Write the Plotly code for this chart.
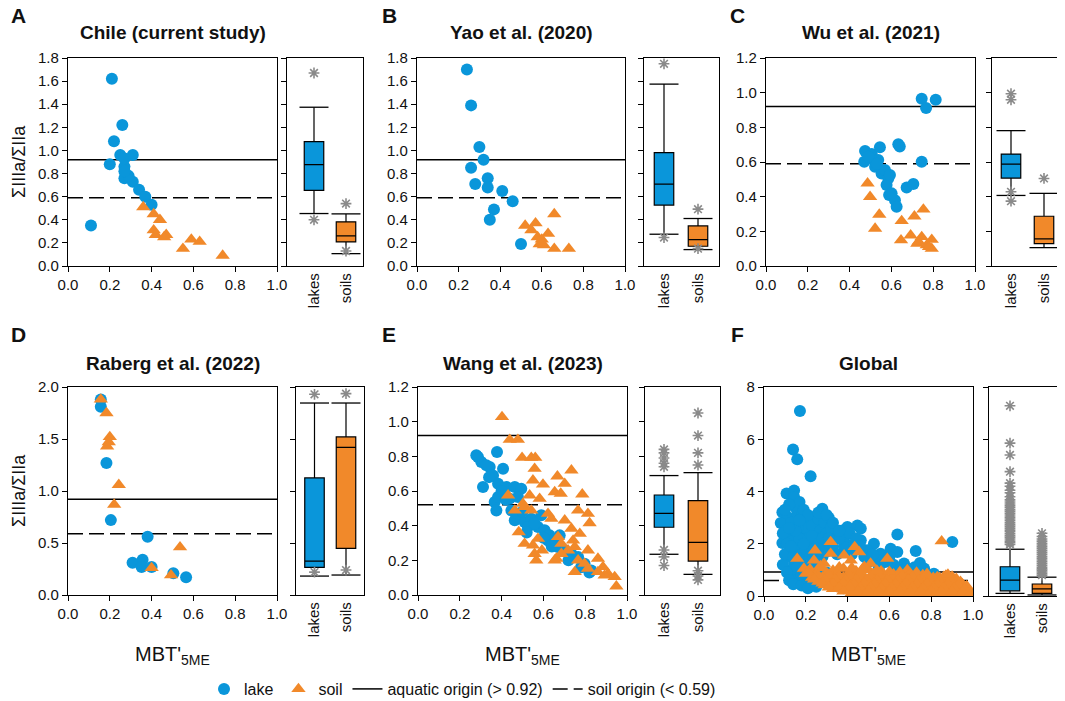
import plotly.graph_objects as go

# ---------------- data ----------------
# Panel A - Chile (current study)
a_lake_x = [0.11, 0.21, 0.22, 0.26, 0.20, 0.25, 0.31, 0.27, 0.27, 0.27, 0.31, 0.34, 0.37, 0.40, 0.29, 0.27]
a_lake_y = [0.35, 1.62, 1.08, 1.22, 0.88, 0.96, 0.96, 0.86, 0.93, 0.76, 0.73, 0.66, 0.60, 0.53, 0.78, 0.82]
a_soil_x = [0.36, 0.41, 0.44, 0.41, 0.42, 0.47, 0.46, 0.55, 0.59, 0.63, 0.74]
a_soil_y = [0.51, 0.45, 0.40, 0.31, 0.27, 0.27, 0.25, 0.15, 0.23, 0.21, 0.09]

# Panel B - Yao et al. (2020)
b_lake_x = [0.24, 0.26, 0.30, 0.32, 0.26, 0.34, 0.28, 0.34, 0.41, 0.46, 0.37, 0.35, 0.50]
b_lake_y = [1.70, 1.39, 1.03, 0.92, 0.85, 0.76, 0.71, 0.68, 0.65, 0.56, 0.49, 0.40, 0.19]
b_soil_x = [0.52, 0.57, 0.55, 0.66, 0.58, 0.63, 0.59, 0.61, 0.66, 0.73, 0.60]
b_soil_y = [0.35, 0.37, 0.31, 0.45, 0.25, 0.28, 0.19, 0.18, 0.15, 0.15, 0.23]

# Panel C - Wu et al. (2021)
c_lake_x = [0.745, 0.766, 0.812, 0.474, 0.506, 0.545, 0.633, 0.745, 0.47, 0.522, 0.553, 0.585, 0.577,
            0.589, 0.617, 0.625, 0.673, 0.705, 0.506, 0.537, 0.569, 0.593, 0.601, 0.49, 0.53, 0.64]
c_lake_y = [0.965, 0.911, 0.959, 0.664, 0.646, 0.685, 0.702, 0.602, 0.602, 0.573, 0.534, 0.505, 0.467,
            0.409, 0.380, 0.342, 0.453, 0.473, 0.621, 0.612, 0.554, 0.525, 0.419, 0.63, 0.59, 0.69]
c_soil_x = [0.486, 0.498, 0.542, 0.522, 0.649, 0.71, 0.753, 0.646, 0.692, 0.724, 0.745, 0.769, 0.793, 0.793, 0.73, 0.78]
c_soil_y = [0.477, 0.399, 0.297, 0.216, 0.260, 0.287, 0.326, 0.149, 0.177, 0.129, 0.168, 0.120, 0.152, 0.10, 0.14, 0.11]

# Panel D - Raberg et al. (2022)
d_lake_x = [0.157, 0.157, 0.184, 0.205, 0.381, 0.309, 0.357, 0.352, 0.40, 0.504, 0.565]
d_lake_y = [1.88, 1.81, 1.27, 0.72, 0.56, 0.31, 0.34, 0.27, 0.27, 0.21, 0.17]
d_soil_x = [0.157, 0.184, 0.20, 0.187, 0.243, 0.221, 0.536, 0.40, 0.493, 0.195]
d_soil_y = [1.88, 1.75, 1.52, 1.43, 1.06, 0.87, 0.46, 0.26, 0.19, 1.47]

# Panel E - Wang et al. (2023)
e_lake_x = [0.287, 0.303, 0.378, 0.343, 0.407, 0.359, 0.311, 0.383, 0.423, 0.463,
            0.494, 0.367, 0.383, 0.439, 0.478, 0.375, 0.447, 0.478, 0.463, 0.51,
            0.542, 0.59, 0.526, 0.574, 0.606, 0.63, 0.654, 0.678, 0.702, 0.734,
            0.766, 0.797, 0.829, 0.279, 0.327, 0.478, 0.558, 0.622, 0.67,
            0.34, 0.40, 0.42, 0.50, 0.52, 0.60, 0.64, 0.72, 0.78, 0.82]
e_lake_y = [0.796, 0.767, 0.825, 0.738, 0.729, 0.690, 0.623, 0.642, 0.623, 0.623,
            0.613, 0.537, 0.565, 0.556, 0.565, 0.488, 0.488, 0.450, 0.431, 0.421,
            0.440, 0.460, 0.392, 0.392, 0.373, 0.344, 0.306, 0.344, 0.258, 0.238,
            0.219, 0.181, 0.142, 0.806, 0.748, 0.469, 0.412, 0.315, 0.277,
            0.68, 0.60, 0.55, 0.48, 0.36, 0.33, 0.28, 0.20, 0.16, 0.13]
e_soil_x = [0.402, 0.439, 0.478, 0.498, 0.542, 0.561, 0.558, 0.734, 0.667, 0.55,
            0.598, 0.702, 0.654, 0.683, 0.786, 0.431, 0.534, 0.582, 0.502, 0.463,
            0.542, 0.51, 0.622, 0.638, 0.766, 0.813, 0.821, 0.702, 0.734, 0.774,
            0.482, 0.574, 0.51, 0.55, 0.593, 0.558, 0.67, 0.686, 0.742, 0.75,
            0.718, 0.662, 0.686, 0.813, 0.766, 0.797, 0.861, 0.566, 0.654, 0.75,
            0.813, 0.885, 0.909, 0.941, 0.949, 0.893, 0.861]
e_soil_y = [1.027, 0.896, 0.896, 0.792, 0.792, 0.792, 0.729, 0.719, 0.685, 0.662,
            0.638, 0.642, 0.594, 0.585, 0.581, 0.575, 0.575, 0.556, 0.527, 0.488,
            0.488, 0.508, 0.469, 0.44, 0.488, 0.469, 0.415, 0.431, 0.383, 0.354,
            0.363, 0.325, 0.296, 0.287, 0.258, 0.238, 0.335, 0.296, 0.315, 0.277,
            0.258, 0.21, 0.238, 0.258, 0.2, 0.181, 0.21, 0.2, 0.2, 0.133,
            0.152, 0.162, 0.123, 0.104, 0.05, 0.113, 0.133]

# Panel F - Global
f_lake_x = [0.172, 0.139, 0.159, 0.223, 0.108, 0.144, 0.144, 0.279, 0.088, 0.112,
            0.080, 0.159, 0.191, 0.239, 0.255, 0.088, 0.120, 0.159, 0.207, 0.255,
            0.375, 0.399, 0.447, 0.463, 0.383, 0.463, 0.526, 0.638, 0.606, 0.638,
            0.726, 0.746, 0.901, 0.128, 0.175, 0.223, 0.287, 0.319, 0.343, 0.494,
            0.558, 0.766, 0.112, 0.144, 0.191, 0.255, 0.383, 0.431, 0.542, 0.670,
            0.813, 0.893, 0.957, 0.239, 0.399, 0.558, 0.718, 0.877, 0.989, 0.159,
            0.207, 0.100, 0.130, 0.150, 0.170, 0.180, 0.200, 0.210, 0.230, 0.260,
            0.270, 0.290, 0.300, 0.320, 0.140, 0.160, 0.180, 0.200, 0.220, 0.240,
            0.260, 0.280, 0.300, 0.330, 0.350, 0.360, 0.410, 0.420, 0.440, 0.460,
            0.480, 0.500, 0.520, 0.550, 0.580, 0.600, 0.620, 0.650, 0.690, 0.720,
            0.750, 0.800, 0.850, 0.900, 0.950, 0.820, 0.920, 0.130, 0.150, 0.170,
            0.190, 0.210, 0.230, 0.250, 0.270, 0.300, 0.340, 0.380, 0.450, 0.500,
            0.600, 0.700, 0.110, 0.090, 0.120, 0.160, 0.190, 0.210, 0.250, 0.280,
            0.310, 0.090, 0.100, 0.110, 0.120, 0.140, 0.160, 0.180, 0.200, 0.220,
            0.240, 0.130, 0.170, 0.190, 0.230, 0.260, 0.280, 0.150, 0.100, 0.120,
            0.170, 0.260, 0.300, 0.310, 0.330, 0.360, 0.140, 0.180, 0.210, 0.250]
f_lake_y = [7.08, 5.61, 5.23, 4.58, 3.92, 4.04, 3.79, 3.34, 3.21, 3.02,
            2.79, 3.15, 2.90, 3.02, 2.77, 2.03, 2.26, 2.39, 2.51, 2.39,
            2.51, 2.64, 2.70, 2.58, 2.13, 2.13, 2.00, 2.35, 1.81, 1.68,
            1.72, 1.26, 2.07, 1.75, 1.88, 2.00, 2.26, 2.00, 2.39, 1.75,
            1.62, 1.05, 1.49, 1.24, 1.36, 1.62, 1.88, 2.00, 1.36, 1.24,
            0.85, 0.47, 0.22, 0.47, 0.34, 0.28, 0.22, 0.15, 0.09, 0.85,
            0.60, 2.50, 2.80, 3.40, 3.60, 3.00, 2.60, 2.20, 2.70, 2.95,
            2.50, 2.80, 2.40, 2.60, 2.10, 1.90, 1.60, 1.80, 1.50, 1.30,
            1.10, 1.50, 1.70, 1.90, 1.60, 2.20, 2.40, 1.60, 2.20, 1.90,
            1.50, 1.30, 1.60, 1.10, 1.30, 1.50, 1.20, 1.00, 0.90, 1.10,
            0.80, 0.60, 0.50, 0.30, 0.10, 0.02, 0.03, 1.00, 0.60, 1.20,
            0.90, 0.70, 1.00, 0.80, 0.60, 0.90, 0.40, 0.30, 0.20, 0.15,
            0.08, 0.05, 2.00, 2.40, 3.50, 2.60, 3.30, 3.10, 2.20, 1.90,
            3.00, 1.20, 1.60, 0.90, 0.60, 1.50, 1.10, 0.80, 1.20, 0.90,
            1.80, 1.90, 2.20, 2.00, 2.30, 2.00, 2.20, 2.50, 3.30, 2.60,
            2.90, 3.20, 3.10, 2.20, 2.80, 2.50, 0.45, 0.40, 0.30, 0.35]
f_soil_x = [0.850, 0.319, 0.244, 0.159, 0.434, 0.383, 0.319, 0.590, 0.455, 0.239,
            0.287, 0.191, 0.415, 0.510, 0.686, 0.829, 0.885, 0.220, 0.270, 0.330,
            0.380, 0.440, 0.500, 0.200, 0.250, 0.300, 0.350, 0.400, 0.460, 0.520,
            0.570, 0.620, 0.700, 0.760, 0.230, 0.280, 0.330, 0.380, 0.430, 0.480,
            0.530, 0.580, 0.630, 0.680, 0.730, 0.780, 0.840, 0.900, 0.260, 0.310,
            0.360, 0.410, 0.460, 0.510, 0.560, 0.610, 0.660, 0.710, 0.760, 0.810,
            0.860, 0.910, 0.950, 0.290, 0.340, 0.390, 0.440, 0.490, 0.540, 0.590,
            0.640, 0.690, 0.740, 0.790, 0.840, 0.890, 0.940, 0.330, 0.380, 0.430,
            0.480, 0.530, 0.580, 0.630, 0.680, 0.730, 0.780, 0.830, 0.880, 0.930,
            0.980, 0.420, 0.470, 0.520, 0.570, 0.620, 0.670, 0.720, 0.770, 0.820,
            0.870, 0.920, 0.970, 0.730, 0.560, 0.480, 0.650, 0.870, 0.900, 0.960,
            0.210, 0.260, 0.310, 0.360, 0.410, 0.460, 0.510, 0.560, 0.610, 0.660,
            0.710, 0.760, 0.810, 0.860, 0.920, 0.240, 0.290, 0.340, 0.390, 0.440,
            0.490, 0.540, 0.590, 0.640, 0.690, 0.740, 0.790, 0.840, 0.890, 0.940,
            0.280, 0.330, 0.380, 0.430, 0.480, 0.530, 0.580, 0.630, 0.680, 0.730,
            0.780, 0.830, 0.880, 0.930, 0.970, 0.310, 0.360, 0.410, 0.460, 0.510,
            0.560, 0.610, 0.660, 0.710, 0.760, 0.810, 0.860, 0.910, 0.960, 0.380,
            0.450, 0.500, 0.550, 0.600, 0.650, 0.700, 0.750, 0.800, 0.850, 0.900,
            0.950, 0.990, 0.270, 0.360, 0.420, 0.470, 0.540, 0.600, 0.780, 0.880]
f_soil_y = [2.10, 2.07, 1.75, 1.43, 1.88, 1.56, 1.62, 1.43, 1.68, 1.36,
            1.24, 1.05, 1.36, 1.24, 1.00, 0.73, 0.66, 1.02, 1.08, 0.98,
            1.05, 0.96, 1.00, 0.86, 0.84, 0.88, 0.85, 0.82, 0.87, 0.84,
            0.86, 0.83, 0.85, 0.80, 0.70, 0.72, 0.68, 0.71, 0.69, 0.73,
            0.70, 0.68, 0.72, 0.69, 0.71, 0.67, 0.70, 0.64, 0.55, 0.58,
            0.54, 0.56, 0.53, 0.57, 0.55, 0.52, 0.56, 0.54, 0.53, 0.55,
            0.52, 0.50, 0.45, 0.42, 0.40, 0.41, 0.39, 0.42, 0.38, 0.40,
            0.41, 0.39, 0.40, 0.42, 0.38, 0.40, 0.36, 0.27, 0.25, 0.24,
            0.26, 0.23, 0.25, 0.27, 0.24, 0.26, 0.23, 0.25, 0.24, 0.22,
            0.15, 0.12, 0.10, 0.11, 0.09, 0.12, 0.10, 0.11, 0.09, 0.12,
            0.10, 0.08, 0.06, 0.90, 0.95, 1.12, 0.92, 0.78, 0.75, 0.30,
            0.92, 0.78, 0.80, 0.76, 0.79, 0.75, 0.77, 0.78, 0.74, 0.76,
            0.73, 0.72, 0.70, 0.74, 0.66, 0.64, 0.62, 0.63, 0.61, 0.64,
            0.62, 0.61, 0.63, 0.60, 0.62, 0.59, 0.61, 0.58, 0.60, 0.55,
            0.48, 0.47, 0.49, 0.46, 0.48, 0.45, 0.47, 0.46, 0.48, 0.45,
            0.47, 0.44, 0.46, 0.43, 0.38, 0.33, 0.32, 0.34, 0.31, 0.33,
            0.30, 0.32, 0.31, 0.33, 0.30, 0.32, 0.31, 0.30, 0.26, 0.18,
            0.17, 0.18, 0.16, 0.17, 0.18, 0.16, 0.17, 0.18, 0.16, 0.17,
            0.14, 0.10, 1.15, 1.10, 1.08, 1.02, 0.98, 0.93, 0.85, 0.82]

# Box statistics: [lower whisker, Q1, median, Q3, upper whisker]
a_lake_box = [0.454, 0.654, 0.877, 1.076, 1.374]
a_soil_box = [0.107, 0.208, 0.260, 0.382, 0.451]
b_lake_box = [0.275, 0.527, 0.709, 0.981, 1.574]
b_soil_box = [0.142, 0.171, 0.229, 0.347, 0.411]
c_lake_box = [0.407, 0.507, 0.588, 0.646, 0.781]
c_soil_box = [0.106, 0.129, 0.156, 0.287, 0.419]
d_lake_box = [0.182, 0.266, 0.326, 1.126, 1.846]
d_soil_box = [0.192, 0.448, 1.420, 1.520, 1.846]
e_lake_box = [0.235, 0.391, 0.471, 0.577, 0.689]
e_soil_box = [0.119, 0.196, 0.304, 0.544, 0.706]
f_lake_box = [0.10, 0.20, 0.61, 1.12, 1.79]
f_soil_box = [0.04, 0.10, 0.27, 0.46, 0.72]

# Box-plot outliers
a_lake_out = [1.67, 0.40]
a_soil_out = [0.54, 0.13]
b_lake_out = [1.75, 0.246]
b_soil_out = [0.492, 0.15]
c_lake_out = [0.994, 0.959, 0.428, 0.374]
c_soil_out = [0.505]
d_lake_out = [1.93, 0.22]
d_soil_out = [1.936, 0.24]
e_lake_out = [0.74, 0.76, 0.79, 0.82, 0.84, 0.26, 0.22, 0.17]
e_soil_out = [1.05, 0.92, 0.82, 0.75, 0.14, 0.11, 0.087]
f_lake_out = [1.97, 2.04, 2.10, 2.18, 2.25, 2.31, 2.38, 2.46, 2.52, 2.60, 2.67, 2.73, 2.80,
              2.88, 2.95, 3.02, 3.10, 3.17, 3.24, 3.30, 3.38, 3.45, 3.52, 3.60, 3.68, 3.80,
              3.95, 4.05, 4.20, 4.32, 4.76, 5.40, 5.85, 7.28]
f_soil_out = [0.80, 0.86, 0.92, 0.98, 1.04, 1.10, 1.17, 1.24, 1.31, 1.38, 1.45, 1.52, 1.60,
              1.67, 1.74, 1.81, 1.88, 1.95, 2.02, 2.10, 2.18, 2.28, 2.40]

titles = ["Chile (current study)", "Yao et al. (2020)", "Wu et al. (2021)",
          "Raberg et al. (2022)", "Wang et al. (2023)", "Global"]
letters = ["A", "B", "C", "D", "E", "F"]
aquatic_thr = [0.92, 0.92, 0.92, 0.92, 0.92, 0.92]
soil_thr = [0.59, 0.59, 0.59, 0.59, 0.52, 0.59]
box_cats = ["lakes", "soils"]
legend_names = ["lake", "soil", "aquatic origin (> 0.92)", "soil origin (< 0.59)"]

lake_x = [a_lake_x, b_lake_x, c_lake_x, d_lake_x, e_lake_x, f_lake_x]
lake_y = [a_lake_y, b_lake_y, c_lake_y, d_lake_y, e_lake_y, f_lake_y]
soil_x = [a_soil_x, b_soil_x, c_soil_x, d_soil_x, e_soil_x, f_soil_x]
soil_y = [a_soil_y, b_soil_y, c_soil_y, d_soil_y, e_soil_y, f_soil_y]
lake_box = [a_lake_box, b_lake_box, c_lake_box, d_lake_box, e_lake_box, f_lake_box]
soil_box = [a_soil_box, b_soil_box, c_soil_box, d_soil_box, e_soil_box, f_soil_box]
lake_out = [a_lake_out, b_lake_out, c_lake_out, d_lake_out, e_lake_out, f_lake_out]
soil_out = [a_soil_out, b_soil_out, c_soil_out, d_soil_out, e_soil_out, f_soil_out]

# ---------------- layout / style ----------------
PAGE_W, PAGE_H = 1065, 701
OFF = 8                      # default page margin around the plot div
W, H = PAGE_W - OFF, PAGE_H - OFF
BLUE = "#0A96DA"
ORANGE = "#F1892A"
GRAY = "#8A8A8A"
INK = "#111111"
FONT = "Liberation Sans, Arial, sans-serif"

y_max = [1.8, 1.8, 1.2, 2.0, 1.2, 8]
y_dtick = [0.2, 0.2, 0.2, 0.5, 0.2, 2]
y_fmt = [".1f", ".1f", ".1f", ".1f", ".1f", "d"]
# scatter plot area (left, right, top, bottom) in page pixels
scat_px = [(68, 277, 58, 266), (417, 625, 58, 266), (766, 975, 58, 266),
           (68, 277, 387, 595), (418, 627, 387, 595), (764, 973, 387, 596)]
# box plot area (left, right, lake centre, soil centre) in page pixels
box_px = [(287, 363, 314, 346), (644, 719, 664, 698), (992, 1063, 1011, 1044),
          (296, 364, 314.5, 346), (645, 720, 664, 698), (989, 1062, 1010, 1042)]
letter_px = [(18, 16), (389, 16), (737, 16), (18, 334), (389, 334), (737, 334)]


def px(x):
    return (x - OFF) / W


def py(y):
    return 1 - (y - OFF) / H


def dom_x(l, r):
    return [px(l), px(r)]


def dom_y(t, b):
    return [py(b), py(t)]


fig = go.Figure()
layout = dict(
    width=W, height=H, margin=dict(l=0, r=0, t=0, b=0, autoexpand=False),
    paper_bgcolor="white", plot_bgcolor="white",
    font=dict(family=FONT, size=15, color=INK),
    showlegend=True,
    legend=dict(orientation="h", x=px(204), xanchor="left", y=py(689), yanchor="middle",
                font=dict(family=FONT, size=16, color=INK),
                bgcolor="rgba(0,0,0,0)", itemwidth=30, tracegroupgap=0),
)
annotations = []

axis_common = dict(showgrid=False, zeroline=False, showline=True, mirror=True, automargin=False,
                   linecolor="black", linewidth=1.3, ticks="outside", ticklen=5,
                   tickwidth=1.2, tickcolor="black", tickfont=dict(size=15, color=INK))

for i in range(6):
    sx, bx = 2 * i + 1, 2 * i + 2
    xs = "x" if sx == 1 else f"x{sx}"
    ys = "y" if sx == 1 else f"y{sx}"
    xb, yb = f"x{bx}", f"y{bx}"
    l, r, t, b = scat_px[i]
    bl, br, lc, sc = box_px[i]
    ppu = sc - lc
    show = (i == 0)

    # threshold lines (drawn behind markers)
    fig.add_trace(go.Scatter(x=[0, 1], y=[aquatic_thr[i]] * 2, mode="lines",
                             line=dict(color="black", width=1.5), name=legend_names[2],
                             legendrank=3, showlegend=show, hoverinfo="skip",
                             xaxis=xs, yaxis=ys))
    fig.add_trace(go.Scatter(x=[0, 1], y=[soil_thr[i]] * 2, mode="lines",
                             line=dict(color="black", width=1.5, dash="15px,6px"),
                             name=legend_names[3], legendrank=4, showlegend=show,
                             hoverinfo="skip", xaxis=xs, yaxis=ys))
    # scatter
    fig.add_trace(go.Scatter(x=lake_x[i], y=lake_y[i], mode="markers", name=legend_names[0],
                             marker=dict(symbol="circle", size=12, color=BLUE, line=dict(width=0)),
                             legendrank=1, showlegend=show, xaxis=xs, yaxis=ys))
    fig.add_trace(go.Scatter(x=soil_x[i], y=soil_y[i], mode="markers", name=legend_names[1],
                             marker=dict(symbol="triangle-up", size=12.5, color=ORANGE, line=dict(width=0)),
                             legendrank=2, showlegend=show, xaxis=xs, yaxis=ys))

    # box plots
    bw = 19.5 / ppu
    cap = 14.5 / ppu
    for pos, stats, col, outs in [(0, lake_box[i], BLUE, lake_out[i]),
                                  (1, soil_box[i], ORANGE, soil_out[i])]:
        fig.add_trace(go.Box(x=[pos], lowerfence=[stats[0]], q1=[stats[1]], median=[stats[2]],
                             q3=[stats[3]], upperfence=[stats[4]], orientation="v",
                             width=bw, fillcolor=col, line=dict(color="black", width=1.2),
                             whiskerwidth=0, boxpoints=False, showlegend=False,
                             hoverinfo="skip", xaxis=xb, yaxis=yb))
        fig.add_trace(go.Scatter(x=[pos - cap, pos + cap, None, pos - cap, pos + cap],
                                 y=[stats[4], stats[4], None, stats[0], stats[0]],
                                 mode="lines", line=dict(color="black", width=1.3),
                                 showlegend=False, hoverinfo="skip", xaxis=xb, yaxis=yb))
        fig.add_trace(go.Scatter(x=[pos] * len(outs), y=outs, mode="markers",
                                 marker=dict(symbol="asterisk-open", size=9, color=GRAY,
                                             line=dict(color=GRAY, width=1.6)),
                                 showlegend=False, hoverinfo="skip", xaxis=xb, yaxis=yb))

    # axes
    layout["xaxis" if sx == 1 else f"xaxis{sx}"] = dict(
        axis_common, domain=dom_x(l, r), anchor=ys, range=[0, 1],
        tickvals=[0, 0.2, 0.4, 0.6, 0.8, 1.0], tickformat=".1f")
    layout["yaxis" if sx == 1 else f"yaxis{sx}"] = dict(
        axis_common, domain=dom_y(t, b), anchor=xs, range=[0, y_max[i]],
        dtick=y_dtick[i], tick0=0, tickformat=y_fmt[i])
    layout[f"xaxis{bx}"] = dict(
        axis_common, domain=dom_x(bl, br), anchor=yb,
        range=[(bl - lc) / ppu, 1 + (br - sc) / ppu],
        tickvals=[0, 1], ticktext=box_cats, tickangle=-90, ticks="")
    layout[f"yaxis{bx}"] = dict(
        axis_common, domain=dom_y(t, b), anchor=xb, range=[0, y_max[i]],
        dtick=y_dtick[i], tick0=0, showticklabels=False)

    # titles and letters
    annotations.append(dict(text=f"<b>{titles[i]}</b>", x=px((l + r) / 2), y=py(33 if i < 3 else 363),
                            xref="paper", yref="paper", showarrow=False, xanchor="center",
                            yanchor="middle", font=dict(size=19, color=INK)))
    lx, ly = letter_px[i]
    annotations.append(dict(text=f"<b>{letters[i]}</b>", x=px(lx), y=py(ly),
                            xref="paper", yref="paper", showarrow=False, xanchor="center",
                            yanchor="middle", font=dict(size=21, color=INK)))
    if i in (0, 3):
        annotations.append(dict(text="ΣIIIa/ΣIIa", x=px(19), y=py((t + b) / 2),
                                xref="paper", yref="paper", showarrow=False, textangle=-90,
                                xanchor="center", yanchor="middle", font=dict(size=18, color=INK)))
    if i >= 3:
        annotations.append(dict(text="MBT'<sub>5ME</sub>", x=px((l + r) / 2), y=py(655),
                                xref="paper", yref="paper", showarrow=False,
                                xanchor="center", yanchor="middle", font=dict(size=20, color=INK)))

layout["annotations"] = annotations
fig.update_layout(**layout)
fig.write_html("out.html")
